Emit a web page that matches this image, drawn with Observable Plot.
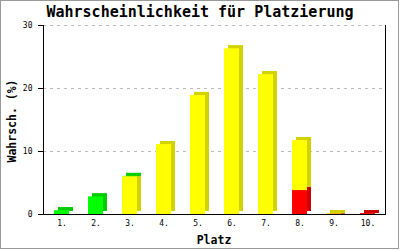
<!DOCTYPE html>
<html><head><meta charset="utf-8">
<script src="https://cdn.jsdelivr.net/npm/d3@7"></script>
<script src="https://cdn.jsdelivr.net/npm/@observablehq/plot@0.6"></script>
<style>
body{margin:0;background:#fff}
#wrap{position:relative;width:400px;height:250px;overflow:hidden;background:#fff}
#border{position:absolute;left:0;top:0;width:399px;height:249px;box-sizing:border-box;border:1px solid #999;pointer-events:none;z-index:5}
#title{position:absolute;left:0;top:3px;width:400px;text-align:center;font:bold 15px "DejaVu Sans Mono",monospace;color:#000;line-height:18px}
#plot{position:absolute;left:0;top:18px}
#ylab{position:absolute;left:12px;top:121px;transform:translate(-50%,-50%) rotate(-90deg);font:bold 11.5px "DejaVu Sans Mono",monospace;white-space:nowrap}
#xlab{position:absolute;left:214px;top:240px;transform:translate(-50%,-50%);font:bold 11.5px "DejaVu Sans Mono",monospace}
</style></head>
<body>
<div id="wrap">
  <div id="title">Wahrscheinlichkeit für Platzierung</div>
  <div id="plot"></div>
  <div id="ylab">Wahrsch. (%)</div>
  <div id="xlab">Platz</div>
  <div id="border"></div>
</div>
<script>
const places = ["1.","2.","3.","4.","5.","6.","7.","8.","9.","10."];
const red    = [0, 0, 0, 0, 0, 0, 0, 3.8, 0.05, 0.15];
const yellow = [0, 0, 6.0, 11.1, 18.9, 26.3, 22.2, 7.95, 0.1, 0];
const green  = [0.6, 2.8, 0.05, 0, 0, 0, 0, 0, 0, 0];
const yTicks = [0, 10, 20, 30];

const seriesNames = ["red", "yellow", "green"];
const seriesValues = [red, yellow, green];
const frontColor = {red: "#ff0000", yellow: "#ffff00", green: "#00ff00"};
const sideColor  = {red: "#cc0000", yellow: "#d2d200", green: "#00cc00"};

const segs = [];
places.forEach((p, i) => {
  let base = 0;
  seriesNames.forEach((s, k) => {
    const v = seriesValues[k][i];
    if (v > 0) {
      segs.push({place: p, series: s, y1: base, y2: base + v});
      base += v;
    }
  });
});

const chart = Plot.plot({
  width: 400, height: 232,
  marginTop: 7, marginBottom: 36, marginLeft: 43, marginRight: 15,
  style: {fontFamily: "DejaVu Sans Mono, monospace", fontSize: "8px", background: "transparent", overflow: "visible", color: "#000"},
  x: {domain: places, paddingInner: 0.56, paddingOuter: 0.28, align: 0.5, label: null},
  y: {domain: [0, 30], label: null},
  marks: [
    Plot.gridY(yTicks.filter(d => d > 0), {stroke: "#bbb", strokeOpacity: 1, strokeDasharray: "3,4"}),
    Plot.barY(segs, {x: "place", y1: "y1", y2: "y2", fill: d => sideColor[d.series], dx: 4, dy: -3}),
    Plot.barY(segs, {x: "place", y1: "y2", y2: "y2", insetTop: -3, fill: d => sideColor[d.series], dx: 4}),
    Plot.barY(segs, {x: "place", y1: "y1", y2: "y2", fill: d => frontColor[d.series]}),
    Plot.axisY(yTicks, {tickSize: 5, tickPadding: 6, label: null, stroke: "#000"}),
    Plot.axisX({tickSize: 0, tickPadding: 6, label: null}),
    Plot.frame({anchor: "left", stroke: "#000"}),
    Plot.frame({anchor: "right", stroke: "#000"}),
    Plot.frame({anchor: "bottom", stroke: "#000"})
  ]
});
document.getElementById("plot").appendChild(chart);
</script>
</body></html>
